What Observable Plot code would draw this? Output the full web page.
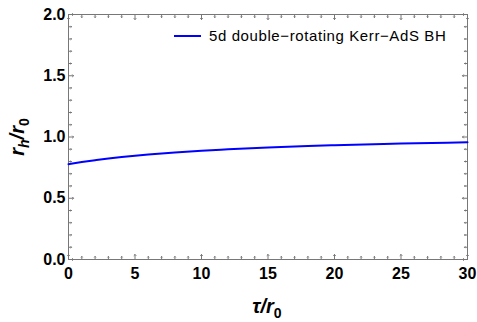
<!DOCTYPE html>
<html>
<head>
<meta charset="utf-8">
<script src="https://cdn.jsdelivr.net/npm/d3@7"></script>
<script src="https://cdn.jsdelivr.net/npm/@observablehq/plot@0.6"></script>
<style>
  html, body { margin: 0; padding: 0; background: #fff; }
  #chart svg { display: block; }
</style>
</head>
<body>
<div id="chart"></div>
<script>
// Horizon radius of the 5d double-rotating Kerr-AdS black hole versus tau
const tau = [0, 1, 2, 3, 4, 5, 6, 8, 10, 12, 15, 18, 20, 25, 30];
const rh  = [0.778, 0.795, 0.81, 0.824, 0.836, 0.847, 0.857, 0.874, 0.888, 0.899, 0.914, 0.926, 0.933, 0.946, 0.957];

const xMajor = [0, 5, 10, 15, 20, 25, 30];
const xMinor = d3.range(0, 31, 1).filter(v => v % 5 !== 0);
const yMajor = [0, 0.5, 1.0, 1.5, 2.0];
const yMinor = d3.range(0, 21, 1).map(v => v / 10).filter(v => Math.round(v * 10) % 5 !== 0);

const legendText = "5d double\u2212rotating Kerr\u2212AdS BH";

const data = tau.map((t, i) => ({tau: t, rh: rh[i]}));

const frameColor = "#777";
const fontBold = {fontFamily: "'Liberation Sans', Arial, sans-serif", fontWeight: "bold", fontSize: 16};

// inward-pointing tick marks on all four sides of the frame
function ticks(values, len, side) {
  const base = {length: len, anchor: "start", stroke: frameColor, strokeWidth: 1};
  if (side === "bottom") return Plot.vector(values, {...base, x: d => d, y: 0, rotate: 0});
  if (side === "top") return Plot.vector(values, {...base, x: d => d, y: 2, rotate: 180});
  if (side === "left") return Plot.vector(values, {...base, x: 0, y: d => d, rotate: 90});
  return Plot.vector(values, {...base, x: 30, y: d => d, rotate: -90});
}

const chart = Plot.plot({
  width: 477,
  height: 322,
  marginLeft: 68,
  marginRight: 10,
  marginTop: 14,
  marginBottom: 63,
  x: {domain: [0, 30]},
  y: {domain: [0, 2]},
  marks: [
    Plot.frame({stroke: frameColor, strokeWidth: 1}),
    ...["bottom", "top"].flatMap(s => [ticks(xMajor, 5, s), ticks(xMinor, 3, s)]),
    ...["left", "right"].flatMap(s => [ticks(yMajor, 5, s), ticks(yMinor, 3, s)]),
    Plot.axisX({ticks: xMajor, tickSize: 0, tickPadding: 8, label: null, tickFormat: d3.format("d"), ...fontBold, fill: "#000"}),
    Plot.axisY({ticks: yMajor, tickSize: 0, tickPadding: 3, label: null, tickFormat: d3.format(".1f"), ...fontBold, fill: "#000"}),
    Plot.line(data, {x: "tau", y: "rh", curve: "monotone-x", stroke: "#0000ff", strokeWidth: 2})
  ]
});

document.getElementById("chart").appendChild(chart);

// axis titles with subscripts, and the legend
const svg = d3.select(chart);
const titleFont = "'Liberation Sans', Arial, sans-serif";

const xt = svg.append("text")
  .attr("x", 267).attr("y", 313)
  .attr("text-anchor", "middle")
  .attr("font-family", titleFont).attr("font-size", 20)
  .attr("font-weight", "bold").attr("font-style", "italic")
  .attr("fill", "#000");
xt.append("tspan").text("\u03C4/r");
xt.append("tspan").attr("dy", 5).attr("font-size", 14).attr("font-style", "normal").text("0");

const yt = svg.append("text")
  .attr("transform", "translate(24,137) rotate(-90)")
  .attr("text-anchor", "middle")
  .attr("font-family", titleFont).attr("font-size", 20)
  .attr("font-weight", "bold").attr("font-style", "italic")
  .attr("fill", "#000");
yt.append("tspan").text("r");
yt.append("tspan").attr("dy", 5).attr("font-size", 14).text("h");
yt.append("tspan").attr("dy", -5).text("/r");
yt.append("tspan").attr("dy", 5).attr("font-size", 14).attr("font-style", "normal").text("0");

const lg = svg.append("g");
lg.append("line")
  .attr("x1", 174).attr("x2", 201).attr("y1", 36).attr("y2", 36)
  .attr("stroke", "#0000ff").attr("stroke-width", 2);
lg.append("text")
  .attr("x", 209).attr("y", 41)
  .attr("text-anchor", "start")
  .attr("font-family", titleFont).attr("font-size", 15)
  .attr("letter-spacing", 0.6)
  .attr("fill", "#000")
  .text(legendText);
</script>
</body>
</html>
